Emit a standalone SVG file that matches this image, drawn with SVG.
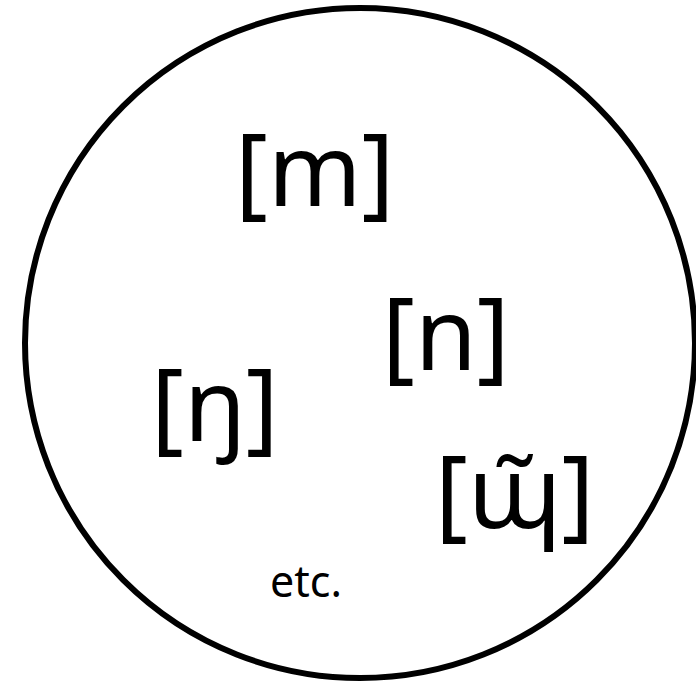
<svg xmlns="http://www.w3.org/2000/svg" width="696" height="681" viewBox="0 0 696 681">
<style>
.lbl{font-family:"Noto Sans","Open Sans","DejaVu Sans",sans-serif;font-size:100px;fill:#000}
.small{font-family:"Noto Sans","Open Sans","DejaVu Sans",sans-serif;font-size:43px;fill:#000}
</style>
<rect width="696" height="681" fill="#fff"/>
<g id="set">
<circle cx="360" cy="343" r="335" fill="none" stroke="#000" stroke-width="6"/>
</g>
<g id="m"><text class="lbl" x="235" y="206">[m]</text></g>
<g id="n"><text class="lbl" x="382" y="370">[n]</text></g>
<g id="eng"><text class="lbl" x="151" y="441">[ŋ]</text></g>
<g id="velar"><text class="lbl" x="435" y="528">[ɰ̃]</text></g>
<g id="etc"><text class="small" x="270" y="597">etc.</text></g>
<g id="connectors"></g>
</svg>
